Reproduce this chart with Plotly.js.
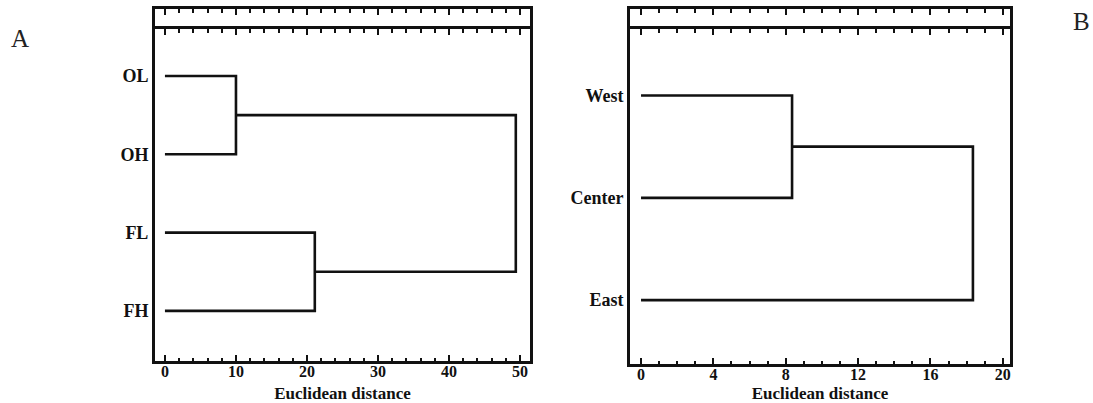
<!DOCTYPE html>
<html><head><meta charset="utf-8">
<script src="https://cdn.plot.ly/plotly-3.0.1.min.js"></script>
<style>body{margin:0;padding:0;background:#fff}#chart{width:1093px;height:403px}</style>
</head><body><div id="chart"></div>
<script>
// Panel A data
const leavesA = ['OL', 'OH', 'FL', 'FH'];
const mergeA1 = 10.0;   // OL + OH
const mergeA2 = 21.1;   // FL + FH
const rootA = 49.4;     // (OL,OH) + (FL,FH)
// Panel B data
const leavesB = ['West', 'Center', 'East'];
const mergeB1 = 8.35;   // West + Center
const rootB = 18.35;    // (West,Center) + East
const xTicksA = [0, 10, 20, 30, 40, 50];
const xTicksB = [0, 4, 8, 12, 16, 20];

const serif = 'Liberation Serif, Times New Roman, serif';
const lineStyle = {color: '#111', width: 2.6};

// positions of leaves (top to bottom)
const yA = leavesA.map((_, i) => leavesA.length - i);
const yB = leavesB.map((_, i) => leavesB.length - i);

function seg(x, y, xa, ya) {
  return {type: 'scatter', mode: 'lines', x: x, y: y, xaxis: xa, yaxis: ya,
    line: lineStyle, hoverinfo: 'skip', showlegend: false};
}

const midA1 = (yA[0] + yA[1]) / 2, midA2 = (yA[2] + yA[3]) / 2;
const midB1 = (yB[0] + yB[1]) / 2;
const traces = [
  // A
  seg([0, mergeA1, mergeA1, 0], [yA[0], yA[0], yA[1], yA[1]], 'x', 'y'),
  seg([0, mergeA2, mergeA2, 0], [yA[2], yA[2], yA[3], yA[3]], 'x', 'y'),
  seg([mergeA1, rootA, rootA, mergeA2], [midA1, midA1, midA2, midA2], 'x', 'y'),
  // B
  seg([0, mergeB1, mergeB1, 0], [yB[0], yB[0], yB[1], yB[1]], 'x3', 'y3'),
  seg([mergeB1, rootB, rootB, 0], [midB1, midB1, yB[2], yB[2]], 'x3', 'y3'),
  // dummy traces for strips
  {type: 'scatter', x: [0], y: [0], xaxis: 'x2', yaxis: 'y2', mode: 'none', hoverinfo: 'skip', showlegend: false},
  {type: 'scatter', x: [0], y: [0], xaxis: 'x4', yaxis: 'y4', mode: 'none', hoverinfo: 'skip', showlegend: false}
];

const W = 1093, H = 403;
const dxA = [155 / W, 530 / W], dxB = [630 / W, 1010 / W];
const mainA = [(H - 361) / H, (H - 29) / H];
const mainB = [(H - 364) / H, (H - 29) / H];
const strip = [(H - 29) / H, (H - 9) / H];

function mainX(domain, range, ticks, minorDt, anchor) {
  return {domain: domain, range: range, anchor: anchor, tickvals: ticks, ticktext: ticks.map(t => '<b>' + t + '</b>'),
    ticks: 'inside', ticklen: 6, tickwidth: 2, tickcolor: '#111',
    minor: {dtick: minorDt, tick0: 0, ticks: 'inside', ticklen: 3.5, tickwidth: 2, tickcolor: '#111'},
    showline: true, linewidth: 3, linecolor: '#111', mirror: 'ticks', showgrid: false, zeroline: false,
    tickfont: {family: serif, size: 16, color: '#111'}, fixedrange: true, ticklabelstandoff: -6,
    title: {text: '<b>Euclidean distance</b>', font: {family: serif, size: 17, color: '#111'}, standoff: 9}};
}
function stripX(domain, range, ticks, minorDt, anchor) {
  return {domain: domain, range: range, anchor: anchor, side: 'top', tickvals: ticks,
    ticks: 'inside', ticklen: 6, tickwidth: 2, tickcolor: '#111', showticklabels: false,
    minor: {dtick: minorDt, tick0: 0, ticks: 'inside', ticklen: 3.5, tickwidth: 2, tickcolor: '#111'},
    showline: true, linewidth: 3, linecolor: '#111', mirror: false, showgrid: false, zeroline: false,
    fixedrange: true};
}
function mainY(domain, range, vals, labels, anchor) {
  return {domain: domain, range: range, anchor: anchor, tickvals: vals, ticktext: labels.map(s => '<b>' + s + '</b>'),
    ticks: '', showline: true, linewidth: 3, linecolor: '#111', mirror: true, showgrid: false, zeroline: false,
    tickfont: {family: serif, size: 18, color: '#111'}, fixedrange: true};
}
function stripY(domain, anchor) {
  return {domain: domain, range: [0, 1], anchor: anchor, showticklabels: false, ticks: '',
    showline: true, linewidth: 3, linecolor: '#111', mirror: true, showgrid: false, zeroline: false, fixedrange: true};
}

const layout = {
  width: W, height: H, margin: {l: 0, r: 0, t: 0, b: 0},
  paper_bgcolor: '#fff', plot_bgcolor: '#fff', showlegend: false,
  xaxis: mainX(dxA, [-1.4, 51.4], xTicksA, 2, 'y'),
  yaxis: mainY(mainA, [0.36, 4.6], yA, leavesA, 'x'),
  xaxis2: stripX(dxA, [-1.4, 51.4], xTicksA, 2, 'y2'),
  yaxis2: stripY(strip, 'x2'),
  xaxis3: mainX(dxB, [-0.61, 20.4], xTicksB, 1, 'y3'),
  yaxis3: mainY(mainB, [0.376, 3.65], yB, leavesB, 'x3'),
  xaxis4: stripX(dxB, [-0.61, 20.4], xTicksB, 1, 'y4'),
  yaxis4: stripY(strip, 'x4'),
  annotations: [
    {text: 'A', x: 20 / W, y: (H - 38) / H, xref: 'paper', yref: 'paper', showarrow: false,
      xanchor: 'center', yanchor: 'middle', font: {family: serif, size: 25, color: '#222'}},
    {text: 'B', x: 1081 / W, y: (H - 22) / H, xref: 'paper', yref: 'paper', showarrow: false,
      xanchor: 'center', yanchor: 'middle', font: {family: serif, size: 25, color: '#222'}}
  ]
};

Plotly.newPlot('chart', traces, layout, {displayModeBar: false, staticPlot: true});
</script>
</body></html>
